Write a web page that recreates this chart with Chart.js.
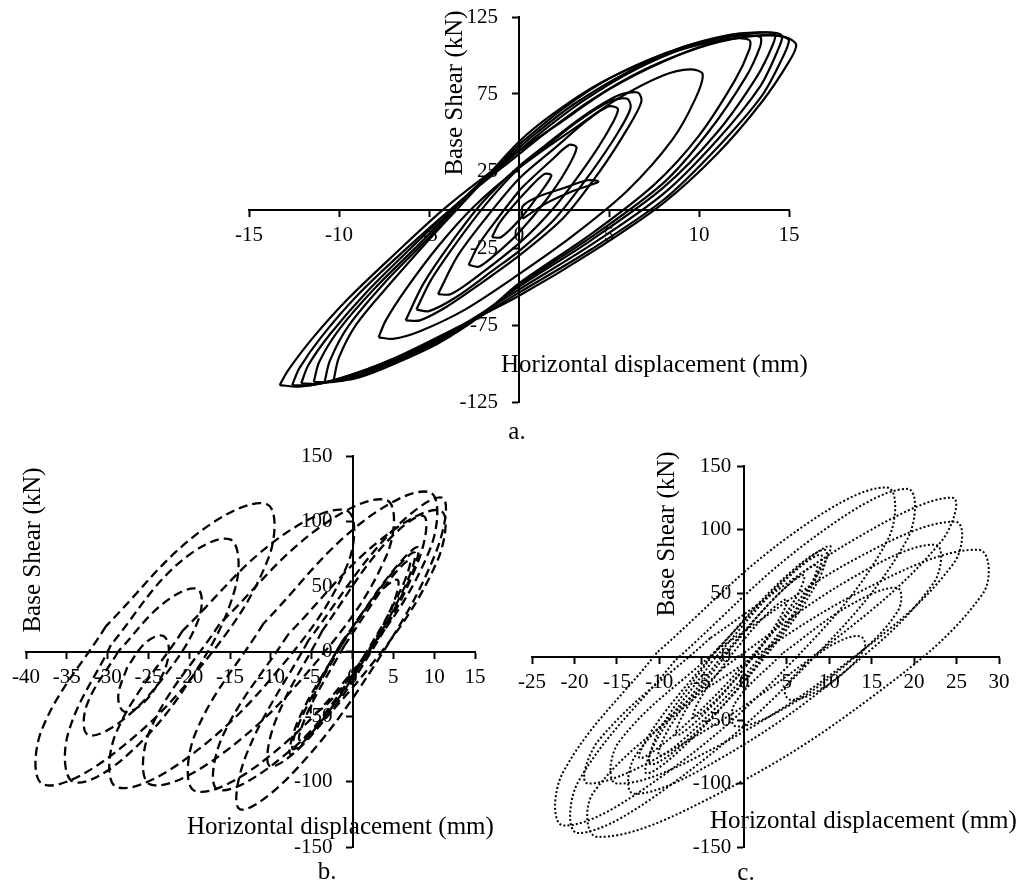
<!DOCTYPE html>
<html>
<head>
<meta charset="utf-8">
<title>Base shear vs horizontal displacement</title>
<script src="https://cdn.jsdelivr.net/npm/chart.js@4.4.1/dist/chart.umd.min.js"></script>
<style>
  html, body { margin: 0; padding: 0; background: #fff; }
  .page { position: relative; width: 1018px; height: 886px; overflow: hidden; }
  .page canvas { position: absolute; left: 0; top: 0; }
</style>
</head>
<body>
<div class="page">
  <canvas id="chartA" width="1018" height="886"></canvas>
  <canvas id="chartB" width="1018" height="886"></canvas>
  <canvas id="chartC" width="1018" height="886"></canvas>
</div>
<script>
// ---- a. (solid) : displacement mm, base shear kN ----
const xTicksA = [-15, -10, -5, 0, 5, 10, 15];
const yTicksA = [-125, -75, -25, 25, 75, 125];

const a1 = [[-13.3,-114],[-12.2,-115],[-10,-110],[-7,-97],[-3.5,-77],[0,-56],[4,-28],[8,4],[11,36],[13.5,70],[15,96],[15.4,107],[14.8,112],[13.5,113],[11,109],[8,96],[5,78],[2,54],[0,38],[-4,2],[-7,-30],[-9.5,-58],[-11.5,-84],[-12.8,-104],[-13.3,-114]];
const a2 = [[-12.6,-114],[-11.5,-114],[-9.5,-108],[-6.5,-95],[-3,-75],[0,-54],[4,-26],[8,6],[11,40],[13.5,74],[14.7,100],[15,110],[14.2,113],[12.5,112],[10,105],[7,91],[4,71],[1.5,50],[0,36],[-3.5,3],[-6.5,-28],[-9,-56],[-11,-83],[-12.2,-103],[-12.6,-114]];
const a3 = [[-12.1,-113],[-11,-113],[-9,-107],[-6,-93],[-3,-74],[0,-52],[4,-23],[8,10],[11,45],[13.4,80],[14.4,104],[14.6,113],[13.8,115],[12,113],[9.5,106],[6.5,91],[3.5,70],[1,48],[0,38],[-3.3,5],[-6,-25],[-8.5,-54],[-10.5,-81],[-11.7,-101],[-12.1,-113]];
const a4 = [[-11.4,-112],[-10.3,-112],[-8.5,-106],[-5.5,-91],[-2.5,-71],[0,-50],[4,-20],[8,14],[11,50],[13.2,86],[14.1,107],[14.2,114],[13.3,115],[11.5,113],[9,105],[6,89],[3,68],[1,50],[0,40],[-3,8],[-5.5,-22],[-8,-51],[-10,-78],[-11.1,-99],[-11.4,-112]];
const a5 = [[-10.8,-112],[-9.7,-111],[-8,-104],[-5,-89],[-2,-68],[0,-49],[4,-18],[8,17],[10.5,50],[12.6,86],[13.4,106],[13.4,112],[12.5,113],[10.5,110],[8,101],[5,85],[2.5,66],[0.5,47],[0,42],[-2.8,10],[-5,-18],[-7.5,-48],[-9.5,-76],[-10.5,-98],[-10.8,-112]];
const a6 = [[-10.3,-111],[-9.2,-110],[-7.5,-103],[-4.5,-87],[-2,-68],[0,-48],[4,-16],[7.5,16],[10,48],[12,84],[12.8,104],[12.8,110],[11.8,111],[10,107],[7.5,98],[4.5,82],[2,63],[0,44],[-2.5,12],[-4.8,-17],[-7,-46],[-9,-74],[-10,-96],[-10.3,-111]];
const a7 = [[-7.8,-83],[-7,-84],[-5.5,-79],[-3,-65],[0,-42],[3,-17],[6,12],[8.5,45],[9.8,72],[10.2,88],[9.5,91],[8,87],[5.5,72],[3,52],[0,27],[-2.5,2],[-4.5,-24],[-6.3,-52],[-7.4,-72],[-7.8,-83]];
const a8 = [[-6.3,-72],[-5.5,-72],[-4,-63],[-2,-47],[0,-30],[2.5,-5],[4.5,25],[6,52],[6.8,70],[6.6,76],[5.5,74],[3.5,60],[1.5,42],[0,28],[-2,5],[-3.8,-22],[-5.3,-48],[-6.3,-72]];
const a9 = [[-5.7,-65],[-5,-66],[-3.5,-57],[-1.5,-40],[0,-27],[2,-6],[4,24],[5.5,50],[6.2,66],[6,72],[5,70],[3,55],[1,36],[0,27],[-1.8,4],[-3.5,-22],[-4.9,-46],[-5.7,-65]];
const a10 = [[-4.5,-55],[-3.8,-55],[-2.5,-45],[0,-22],[2,2],[3.8,30],[5,52],[5.5,65],[5,67],[3.8,58],[2,40],[0,20],[-1.8,-5],[-3.4,-30],[-4.5,-55]];
const a11 = [[-2.8,-36],[-2.2,-37],[-1,-26],[0,-15],[1.5,6],[2.6,25],[3.2,40],[2.8,42],[1.8,32],[0.5,18],[0,12],[-1.2,-6],[-2.2,-22],[-2.8,-36]];
const a12 = [[-1.5,-18],[-1,-18],[0,-7],[1,8],[1.8,22],[1.4,23],[0.5,13],[-0.5,0],[-1.1,-9],[-1.5,-18]];
const a13 = [[0.2,-6],[1.5,4],[3,12],[4.4,18],[3.8,19],[2.5,14],[1,8],[0.2,2],[0.2,-6]];
const loopsA = [a1, a2, a3, a4, a5, a6, a7, a8, a9, a10, a11, a12, a13];

// ---- b. (dashed) ----
const xTicksB = [-40, -35, -30, -25, -20, -15, -10, -5, 0, 5, 10, 15];
const yTicksB = [-150, -100, -50, 0, 50, 100, 150];

const b1 = [[-30.2,19.5],[-38.1,-60.6],[-37.9,-102],[-29.7,-80.4],[-18.2,-8.5],[-10.3,71.6],[-10.5,113],[-18.8,91.4],[-30.2,19.5]];
const b2 = [[-29.6,5],[-34.9,-64.3],[-34.2,-100],[-27.9,-81.2],[-19.6,-19],[-14.3,50.3],[-15,86],[-21.4,67.2],[-29.6,5]];
const b3 = [[-28.7,0],[-32.6,-41.9],[-32.4,-64],[-28.3,-53.3],[-22.7,-16],[-18.8,25.9],[-19,48],[-23.1,37.3],[-28.7,0]];
const b4 = [[-20.8,16],[-29,-63],[-28.9,-104],[-20.5,-82.8],[-8.8,-12],[-0.6,67],[-0.7,108],[-9.1,86.8],[-20.8,16]];
const b5 = [[-16.3,21],[-24.8,-60.2],[-24.8,-102],[-16.3,-80],[-4.3,-7],[4.2,74.2],[4.2,116],[-4.3,94],[-16.3,21]];
const b6 = [[-10.9,21.5],[-19.3,-63.6],[-19.3,-107],[-10.8,-83.4],[1.1,-6.5],[9.5,78.6],[9.5,122],[1,98.4],[-10.9,21.5]];
const b7 = [[-7.9,13],[-16,-66.2],[-16.5,-106],[-9,-83.1],[2.2,-11],[10.3,68.2],[10.8,108],[3.3,85.1],[-7.9,13]];
const b8 = [[-5.4,8.5],[-13,-78.9],[-13.8,-121],[-7.3,-93.1],[2.6,-11.5],[10.2,75.9],[11,118],[4.5,90.1],[-5.4,8.5]];
const b9 = [[-3.7,16],[-9.5,-54.2],[-10.1,-88],[-5.2,-65.5],[2.3,0],[8.1,70.2],[8.7,104],[3.8,81.5],[-3.7,16]];
const b10 = [[-1.4,4.5],[-6.2,-50],[-7.3,-75],[-4.1,-55.7],[1.7,-3.5],[6.5,51],[7.6,76],[4.4,56.7],[-1.4,4.5]];
const b11 = [[-1,4.5],[-5.4,-45.3],[-6.5,-68],[-3.7,-50.3],[1.5,-2.5],[5.9,47.3],[7,70],[4.2,52.3],[-1,4.5]];
const b12 = [[-1.3,7.5],[-4.5,-30.1],[-5,-48],[-2.4,-35.7],[1.8,-0.5],[5,37.1],[5.5,55],[2.9,42.7],[-1.3,7.5]];
const b13 = [[-27.6,-12],[-28.7,-34],[-28,-46],[-25.9,-41],[-23.6,-22],[-22.5,0],[-23.2,12],[-25.3,7],[-27.6,-12]];
const b14 = [[-1.8,2],[-6.6,-52],[-7.6,-79],[-4.4,-58],[1.4,-6],[6.9,54],[8,80],[4.7,60],[-1.8,2]];
const loopsB = [b1, b2, b3, b4, b5, b6, b7, b8, b9, b10, b11, b12, b13, b14];

// ---- c. (dotted) ----
const xTicksC = [-25, -20, -15, -10, -5, 0, 5, 10, 15, 20, 25, 30];
const yTicksC = [-150, -100, -50, 0, 50, 100, 150];

const c1 = [[-10.3,3],[-21.4,-91.9],[-21.3,-133],[-10.1,-96.2],[5.8,-3],[16.9,91.9],[16.8,133],[5.6,96.2],[-10.3,3]];
const c2 = [[-8.2,-3.5],[-19.6,-99.3],[-19.6,-139],[-8.3,-99.3],[7.8,-3.5],[19.2,92.3],[19.2,132],[7.9,92.3],[-8.2,-3.5]];
const c3 = [[-4,14.5],[-17.1,-65.6],[-18.4,-100],[-7.2,-68.5],[10.1,10.5],[23.2,90.6],[24.5,125],[13.3,93.5],[-4,14.5]];
const c4 = [[-4.9,-27],[-17.8,-107.5],[-17.3,-142],[-3.7,-110.3],[15.2,-31],[28.1,49.5],[27.6,84],[14,52.3],[-4.9,-27]];
const c5 = [[-3.1,6],[-14.8,-67.7],[-15,-100],[-3.5,-71.9],[13,0],[24.7,73.7],[24.9,106],[13.4,77.9],[-3.1,6]];
const c6 = [[-2.3,-8],[-12.8,-77.9],[-13,-108],[-2.9,-80.7],[11.8,-12],[22.3,57.9],[22.5,88],[12.4,60.7],[-2.3,-8]];
const c7 = [[4.5,2.5],[-1.1,-36.9],[-1,-55],[4.6,-41.2],[12.5,-3.5],[18.1,35.9],[18,54],[12.4,40.2],[4.5,2.5]];
const c8 = [[7,-7],[4.8,-25.3],[5.4,-34],[8.4,-28.1],[12,-11],[14.2,7.3],[13.6,16],[10.6,10.1],[7,-7]];
const c9 = [[-3.1,6.5],[-10.4,-53.4],[-12.3,-80],[-7.6,-57.7],[0.9,0.5],[8.2,60.4],[10.1,87],[5.4,64.7],[-3.1,6.5]];
const c10 = [[-3.8,-4],[-10.3,-65.4],[-11.5,-92],[-6.7,-68.2],[1.3,-8],[7.8,53.4],[9,80],[4.2,56.2],[-3.8,-4]];
const c11 = [[-2.8,-1],[-8.7,-54.6],[-10,-78],[-5.9,-57.4],[1.3,-5],[7.2,48.6],[8.5,72],[4.4,51.4],[-2.8,-1]];
const c12 = [[-2,3],[-6.9,-42.1],[-8,-62],[-4.7,-45],[1,-1],[5.9,44.1],[7,64],[3.7,47],[-2,3]];
const c13 = [[-1.7,0],[-5.2,-33.3],[-6,-48],[-3.5,-35.4],[0.7,-3],[4.2,30.3],[5,45],[2.5,32.4],[-1.7,0]];
const c14 = [[-3.8,0.5],[-10.1,-59.5],[-11,-85],[-5.9,-61],[2.3,-1.5],[8.6,58.5],[9.5,84],[4.4,60],[-3.8,0.5]];
const loopsC = [c1, c2, c3, c4, c5, c6, c7, c8, c9, c10, c11, c12, c13, c14];

const FONT = '"Liberation Serif", "Times New Roman", serif';

// axis titles, captions and the y tick labels (which sit left of an axis crossing at x = 0)
const figText = {
  id: 'figText',
  beforeDraw(chart, args, o) {
    const ctx = chart.ctx;
    ctx.save();
    ctx.fillStyle = '#000';
    ctx.font = o.titleSize + 'px ' + FONT;
    ctx.textBaseline = 'middle';
    ctx.textAlign = 'left';
    ctx.fillText('Horizontal displacement (mm)', o.xTitleAt[0], o.xTitleAt[1]);
    ctx.textAlign = 'center';
    ctx.fillText(o.caption, o.captionAt[0], o.captionAt[1]);
    ctx.translate(o.yTitleAt[0], o.yTitleAt[1]);
    ctx.rotate(-Math.PI / 2);
    ctx.fillText('Base Shear (kN)', 0, 0);
    ctx.restore();
  },
  beforeDatasetsDraw(chart, args, o) {
    const xs = chart.scales.x, ys = chart.scales.y;
    const ctx = chart.ctx;
    const right = xs.getPixelForValue(0) - o.yLabelGap;
    ctx.save();
    ctx.fillStyle = '#000';
    ctx.font = '21px ' + FONT;
    ctx.textAlign = 'right';
    ctx.textBaseline = 'middle';
    ys.ticks.forEach(t => ctx.fillText(String(t.value), right, ys.getPixelForValue(t.value)));
    ctx.restore();
  }
};

function axisOpts(ticks, isX) {
  return {
    type: 'linear',
    min: ticks[0],
    max: ticks[ticks.length - 1],
    position: isX ? { y: 0 } : { x: 0 },
    afterBuildTicks: s => { s.ticks = ticks.map(v => ({ value: v })); },
    afterFit: s => { if (isX) s.height = 0; else s.width = 0; },
    border: { display: true, color: '#000', width: 2 },
    grid: { display: true, drawOnChartArea: false, drawTicks: true, tickLength: 6, tickWidth: 2, tickColor: '#000' },
    ticks: {
      display: isX,
      autoSkip: false,
      maxRotation: 0,
      padding: 7,
      color: '#000',
      font: { family: FONT, size: 21 },
      callback: v => String(v)
    }
  };
}

function hysteresis(id, loops, xTicks, yTicks, style, padding, text) {
  return new Chart(document.getElementById(id), {
    type: 'scatter',
    data: {
      datasets: loops.map(loop => ({
        data: loop.map(p => ({ x: p[0], y: p[1] })),
        showLine: true,
        borderColor: '#000',
        borderWidth: style.width,
        borderDash: style.dash,
        borderCapStyle: 'butt',
        tension: style.tension,
        pointRadius: 0,
        fill: false,
        clip: false
      }))
    },
    options: {
      responsive: false,
      animation: false,
      events: [],
      layout: { padding: padding },
      plugins: { legend: { display: false }, tooltip: { enabled: false }, figText: text },
      scales: { x: axisOpts(xTicks, true), y: axisOpts(yTicks, false) }
    },
    plugins: [figText]
  });
}

hysteresis('chartA', loopsA, xTicksA, yTicksA,
  { width: 2.2, dash: [], tension: 0.3 },
  { left: 249, right: 229, top: 17, bottom: 484 },
  { titleSize: 25, xTitleAt: [501, 365], yTitleAt: [455, 93], caption: 'a.', captionAt: [517, 432], yLabelGap: 21 });

hysteresis('chartB', loopsB, xTicksB, yTicksB,
  { width: 2.3, dash: [9, 5], tension: 0.38 },
  { left: 26, right: 543, top: 456, bottom: 39 },
  { titleSize: 25, xTitleAt: [187, 827], yTitleAt: [33, 550], caption: 'b.', captionAt: [327, 872], yLabelGap: 20 });

hysteresis('chartC', loopsC, xTicksC, yTicksC,
  { width: 2, dash: [2, 2.2], tension: 0.38 },
  { left: 532, right: 19, top: 466, bottom: 39 },
  { titleSize: 25, xTitleAt: [710, 821], yTitleAt: [667, 534], caption: 'c.', captionAt: [746, 873], yLabelGap: 13 });
</script>
</body>
</html>
